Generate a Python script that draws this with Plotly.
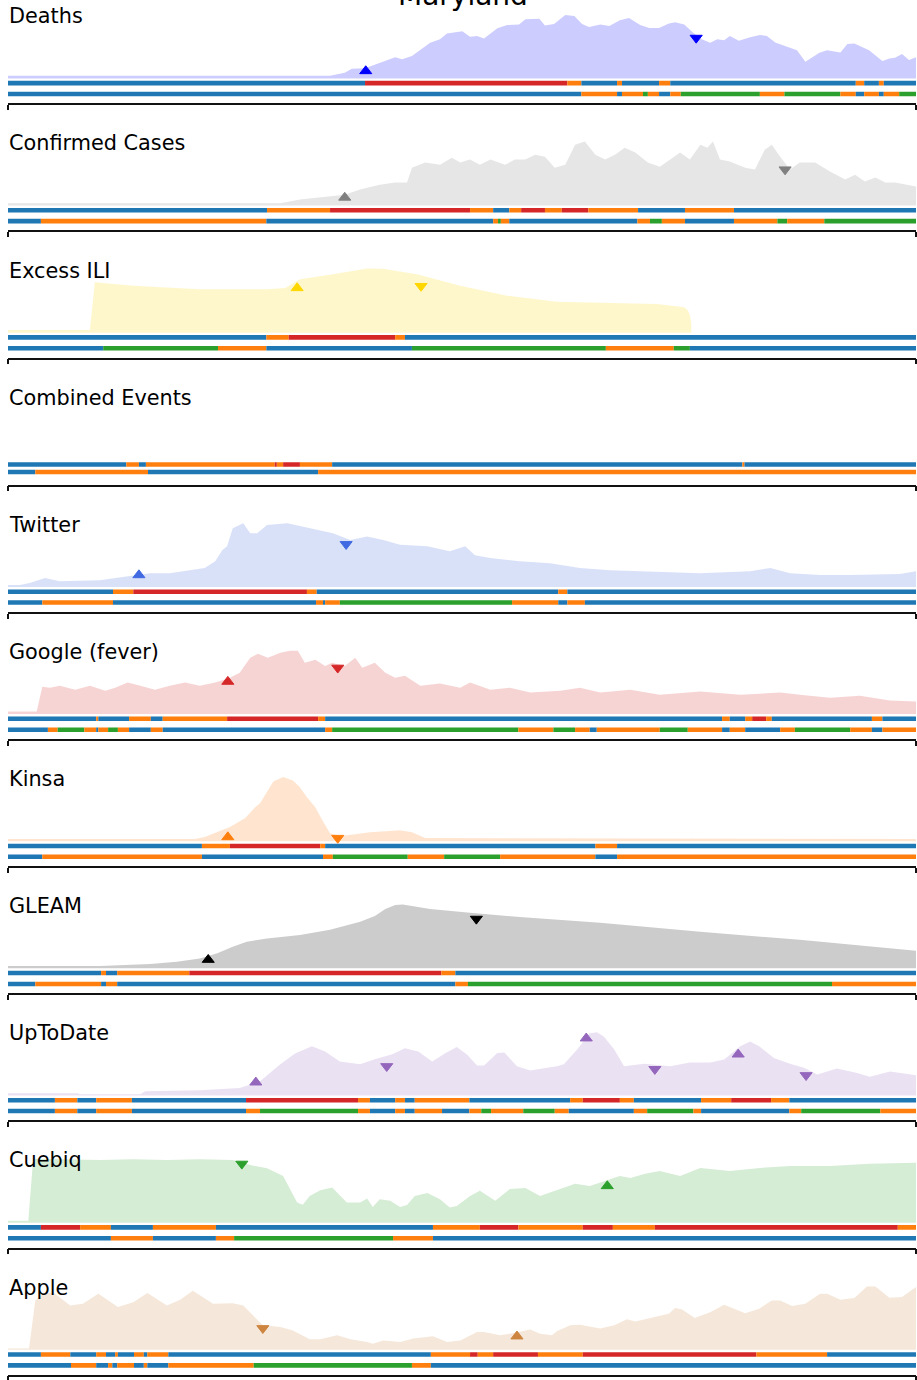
import plotly.graph_objects as go

# ---------------------------------------------------------------------------
# Data: day index (0 = first day shown) and normalised signal level (0-100)
# ---------------------------------------------------------------------------
LAST_DAY = 129.7

DEATHS_DAY = [0, 46, 48.1, 49.1, 51, 53.1, 55.3, 56.3, 57.7, 60.3, 61.7, 62.7, 63.4, 64.9, 66, 67, 68, 69.9, 71.3, 73,
              73.9, 75.9, 76.7, 78, 79.6, 80.9, 82, 83, 84.6, 85.9, 87.4, 88.7, 90.3, 91.6, 93, 94.4, 95.3, 96.6, 98, 99.1,
              100.3, 101.3, 102.3, 103.1, 104.4, 106, 107.4, 108.4, 109.6, 111.3, 112.7, 113.9, 115.9, 117, 118.9, 119.9,
              120.9, 123, 124.9, 125.9, 126.7, 127.7, 128.7, 129.7]
DEATHS_VAL = [4, 4, 9, 15, 16, 24.5, 33, 30, 35, 55.5, 61, 70, 71, 73.5, 65, 66, 62, 78, 83, 84,
              92, 93, 82.5, 84.5, 98.5, 97, 84.5, 80, 84, 81.5, 90.5, 94, 83, 78.5, 78.5, 85.5, 87.5, 84, 70, 61,
              55.5, 61, 59.5, 66, 58.5, 64, 67.5, 66, 56, 49, 44, 26, 40, 44, 40.5, 53.5,
              54.5, 44, 27, 31, 32, 38, 28.5, 33]
DEATHS_MARK_DAY = [51.1, 98.3]
DEATHS_MARK_VAL = [11.5, 63]
DEATHS_MARK_KIND = ["up", "down"]
DEATHS_ROW1 = [(0, "b"), (51, "r"), (79.9, "o"), (81.9, "b"), (87, "o"), (87.7, "b"), (93, "o"), (94.6, "b"),
               (121.1, "o"), (122.3, "b"), (124.4, "o"), (125.1, "b")]
DEATHS_ROW2 = [(0, "b"), (81.9, "o"), (87, "b"), (87.7, "o"), (90.7, "g"), (91.4, "o"), (93, "b"), (94.6, "o"),
               (96.1, "g"), (107.4, "o"), (110.9, "g"), (118.9, "o"), (121.1, "b"), (122.3, "o"), (124.4, "b"),
               (125.1, "o"), (127.3, "g")]

CONFIRMED_DAY = [0, 38.9, 41.7, 46, 48.1, 50.3, 53.1, 55.3, 57, 57.7, 59.6, 61.7, 63.4, 64.6, 66, 67.4, 68.9, 71, 72.4,
                 73.9, 75.3, 76.7, 78.1, 79.6, 81, 82.4, 83.9, 85.3, 86.7, 88.1, 89.6, 91.4, 93.1, 94.6, 96, 97.4, 98.9,
                 99.9, 100.7, 101.7, 103.1, 105.3, 106.7, 108.1, 109.1, 110.3, 111.7, 113.1, 115.3, 117.4, 119.6, 121,
                 122.4, 123.9, 125.3, 126.7, 128.1, 129.7]
CONFIRMED_VAL = [3.5, 3.5, 9.5, 14, 17, 25, 32.5, 36, 36, 59, 67, 63.5, 74.5, 67, 71.5, 63.5, 71.5, 63.5, 71.5,
                 71.5, 79, 76, 59, 63.5, 94.5, 99.5, 79, 71.5, 79, 90, 82.5, 67, 60.5, 71.5, 82.5, 71.5, 94.5,
                 90, 99.5, 71.5, 68.5, 59, 56, 87, 94.5, 76, 56, 67, 67, 53, 40.5, 48,
                 37.5, 43.5, 36, 36, 32.5, 29.5]
CONFIRMED_MARK_DAY = [48.1, 111]
CONFIRMED_MARK_VAL = [12.5, 56]
CONFIRMED_MARK_KIND = ["up", "down"]
CONFIRMED_ROW1 = [(0, "b"), (37, "o"), (46, "r"), (66, "o"), (69.3, "b"), (71.6, "o"), (73.3, "r"), (76.7, "o"),
                  (79.1, "r"), (82.9, "o"), (90, "b"), (96.7, "o"), (103.7, "b")]
CONFIRMED_ROW2 = [(0, "b"), (4.7, "o"), (36.9, "b"), (69.3, "o"), (70, "g"), (70.4, "o"), (71.6, "b"), (89.9, "o"),
                  (91.7, "g"), (93.4, "o"), (96.7, "b"), (103.7, "o"), (109.9, "g"), (111.3, "o"), (116.6, "g")]

ILI_DAY = [0, 11.7, 12.4, 17.9, 27.4, 37, 39.6, 41.7, 46.4, 51.3, 53.6, 58.4, 64.6, 71.3, 78.4, 92.7, 96.6, 97.1,
           97.4, 97.6]
ILI_VAL = [4, 4, 78.5, 73, 67.5, 67.5, 69.5, 83, 91, 100, 99.5, 91, 73, 57.5, 48, 44.5, 39.5, 35, 27.5, 13.5]
ILI_MARK_DAY = [41.3, 59]
ILI_MARK_VAL = [69.5, 72.5]
ILI_MARK_KIND = ["up", "down"]
ILI_ROW1 = [(0, "b"), (36.9, "o"), (40.1, "r"), (55.3, "o"), (56.7, "b")]
ILI_ROW2 = [(0, "b"), (13.6, "g"), (30, "o"), (36.9, "b"), (57.7, "g"), (85.4, "o"), (95.1, "g"), (97.4, "b")]

COMBINED_ROW1 = [(0, "b"), (16.9, "o"), (18.7, "b"), (19.7, "o"), (38.1, "r"), (38.4, "o"), (39.3, "r"), (41.7, "o"),
                 (46.3, "b"), (104.9, "o"), (105.2, "b")]
COMBINED_ROW2 = [(0, "b"), (3.9, "o"), (20, "b"), (44.3, "o")]

TWITTER_DAY = [0, 1.7, 3.1, 5.3, 7.4, 13.1, 17.4, 20.3, 23.1, 26, 28.1, 29.6, 30.6, 31.3, 32.1, 33.6, 34.6, 35.6, 37,
               39.9, 41.7, 46.4, 48.9, 51.3, 53.6, 56, 59.9, 63.1, 65.3, 66.7, 68.9, 73.1, 77.4, 81.7, 86, 91.7, 98.9,
               106, 108.9, 111.7, 116, 120.3, 124.6, 127.4, 129.7]
TWITTER_VAL = [3, 3, 6, 14, 9, 10.5, 17, 21.5, 21.5, 26, 29.5, 40, 57, 63.5, 91.5, 99, 83.5, 83.5, 96.5,
               99, 94.5, 83.5, 73, 78.5, 73, 65.5, 63.5, 55.5, 63.5, 49.5, 45, 40, 37, 29.5, 26, 24.5, 21.5,
               24.5, 29.5, 21.5, 18.5, 18.5, 20, 20, 24.5]
TWITTER_MARK_DAY = [18.7, 48.3]
TWITTER_MARK_VAL = [18.5, 66.5]
TWITTER_MARK_KIND = ["up", "down"]
TWITTER_ROW1 = [(0, "b"), (15, "o"), (17.9, "r"), (42.7, "o"), (44.1, "b"), (78.6, "o"), (79.9, "b")]
TWITTER_ROW2 = [(0, "b"), (4.9, "o"), (15, "b"), (44, "o"), (45, "b"), (45.3, "o"), (47.4, "g"), (72, "o"),
                (78.6, "b"), (79.9, "o"), (82.4, "b")]

GOOGLE_DAY = [0, 4.1, 4.9, 6, 7.4, 9.6, 11.7, 13.9, 15.3, 17.1, 18.9, 21, 23.1, 25.3, 27.4, 29.6, 31.7, 33.1, 34.6,
              35.7, 37.1, 38.9, 40.3, 41.4, 42.4, 43.9, 45.3, 46.3, 48.1, 49.6, 50.6, 52.4, 53.9, 55.3, 56.7, 58.9,
              61.7, 64.6, 66, 68.9, 71.7, 74.6, 78.9, 81.7, 84.6, 88.9, 93.1, 98.9, 104.6, 110.3, 113.1, 117.4,
              121.7, 126, 129.7]
GOOGLE_VAL = [4, 4, 42.5, 41, 44, 38, 44, 36.5, 41, 49, 44, 38, 44, 49, 44, 49, 56.5, 64.5, 87.5,
              94, 87.5, 95.5, 98.5, 98.5, 80, 84.5, 75, 80, 75, 87.5, 72, 80, 64.5, 56.5, 59.5, 44,
              47.5, 41, 49, 38, 41, 33.5, 36.5, 41, 33.5, 38, 30, 35, 30, 33.5, 30, 25.5,
              28.5, 21, 19.5]
GOOGLE_MARK_DAY = [31.4, 47.1]
GOOGLE_MARK_VAL = [50.5, 72]
GOOGLE_MARK_KIND = ["up", "down"]
GOOGLE_ROW1 = [(0, "b"), (12.6, "o"), (12.9, "b"), (17.3, "o"), (20.4, "b"), (22.1, "o"), (31.3, "r"), (44.3, "o"),
               (45.3, "b"), (102, "o"), (103.1, "b"), (105.3, "o"), (106.3, "r"), (108.3, "o"), (109.1, "b"),
               (123.4, "o"), (124.9, "b")]
GOOGLE_ROW2 = [(0, "b"), (5.7, "o"), (7.1, "g"), (10.9, "o"), (12.6, "b"), (12.9, "o"), (14.3, "g"), (15.7, "o"),
               (17.3, "b"), (20.4, "o"), (22.1, "b"), (45.3, "o"), (46.3, "g"), (72.9, "o"), (77.9, "g"), (81, "o"),
               (83.1, "b"), (84.1, "o"), (93.1, "g"), (97.1, "o"), (102, "b"), (103.1, "o"), (105.3, "b"),
               (110.3, "o"), (112.4, "g"), (120.3, "o"), (123.4, "b"), (124.9, "o")]

KINSA_DAY = [0, 26.7, 28.1, 29.6, 31.7, 33.9, 35.3, 36, 36.9, 37.9, 39.3, 40.7, 41.7, 42.7, 43.9, 44.9, 46, 47.4,
             49.6, 51.7, 53.9, 56, 57.7, 59.6, 129.7]
KINSA_VAL = [3.5, 3.5, 6.5, 12.5, 22, 36, 53, 59, 76, 93, 100, 94.5, 84, 68.5, 53, 32.5, 12.5, 8,
             11, 14, 15.5, 17, 14, 5, 3.5]
KINSA_MARK_DAY = [31.4, 47.1]
KINSA_MARK_VAL = [6.5, 5]
KINSA_MARK_KIND = ["up", "down"]
KINSA_ROW1 = [(0, "b"), (27.7, "o"), (31.7, "r"), (44.6, "o"), (45.3, "b"), (83.9, "o"), (87, "b")]
KINSA_ROW2 = [(0, "b"), (4.9, "o"), (27.7, "b"), (45, "o"), (46.4, "g"), (57.1, "o"), (62.3, "g"), (70.3, "o"),
              (83.9, "b"), (87, "o")]

GLEAM_DAY = [0, 13.1, 20.3, 24.1, 27.4, 29.9, 32.1, 34.1, 37, 41.7, 46, 50.3, 52.4, 53.9, 55.3, 56.4, 57.7, 60.3, 66,
             73.1, 84.6, 98.9, 113.1, 129.7]
GLEAM_VAL = [3.5, 3.5, 7, 10.5, 15.5, 23.5, 33.5, 41.5, 46.5, 52, 60, 72.5, 81.5, 92.5, 98.5, 99.5, 97, 92.5, 86.5,
             80, 71, 57, 44.5, 27.5]
GLEAM_MARK_DAY = [28.6, 66.9]
GLEAM_MARK_VAL = [13.5, 77]
GLEAM_MARK_KIND = ["up", "down"]
GLEAM_ROW1 = [(0, "b"), (13.3, "o"), (14, "b"), (15.6, "o"), (25.9, "r"), (61.9, "o"), (63.9, "b")]
GLEAM_ROW2 = [(0, "b"), (3.9, "o"), (13.3, "b"), (14, "o"), (15.6, "b"), (63.9, "o"), (65.7, "g"), (117.7, "o")]

UPTODATE_DAY = [0, 10, 10.3, 18.9, 19.6, 27.4, 33.1, 36, 38.9, 41, 43.4, 45.3, 47.4, 50.3, 52.4, 54.9, 56.7, 58.6,
                60.6, 62.4, 64.1, 65.6, 67, 68, 69.9, 70.9, 72.7, 74.6, 78.4, 79.4, 81.3, 83.1, 84.1, 85.1, 86.6, 88,
                90.9, 94.6, 97.4, 100.3, 102.3, 104.6, 106, 107.3, 109.4, 111.7, 113.7, 115.6, 118.4, 121.3, 123.1,
                126, 129.7]
UPTODATE_VAL = [3.5, 3.5, 2, 2, 6.5, 8, 11.5, 22, 48.5, 65.5, 76.5, 68.5, 53, 48.5, 56.5, 64, 73.5, 68.5,
                53, 65.5, 75.5, 63.5, 46.5, 46.5, 66, 67, 45.5, 39, 45.5, 48.5, 71.5, 97, 98.5, 92, 71.5, 45.5,
                49.5, 45.5, 51.5, 51.5, 56, 76.5, 84, 76.5, 58.5, 49.5, 43, 32.5, 42, 35, 29,
                37.5, 31.5]
UPTODATE_MARK_DAY = [35.4, 54.1, 82.6, 92.4, 104.3, 114]
UPTODATE_MARK_VAL = [20.5, 45.5, 89, 41, 64, 31.5]
UPTODATE_MARK_KIND = ["up", "down", "up", "down", "up", "down"]
UPTODATE_ROW1 = [(0, "b"), (6.7, "o"), (9.9, "b"), (12.6, "o"), (17.7, "b"), (34, "r"), (50, "o"), (51.7, "b"),
                 (55.3, "o"), (56.7, "b"), (58.1, "o"), (65.9, "b"), (80.3, "o"), (82.1, "r"), (87.4, "o"),
                 (89.4, "b"), (99, "o"), (103.3, "r"), (109, "o"), (111.6, "b")]
UPTODATE_ROW2 = [(0, "b"), (6.7, "o"), (9.9, "b"), (12.6, "o"), (17.7, "b"), (34, "o"), (36, "g"), (50, "o"),
                 (51.7, "b"), (55.3, "o"), (56.7, "b"), (58.1, "o"), (62, "b"), (65.9, "o"), (67.6, "g"), (69, "o"),
                 (73.6, "g"), (78.1, "o"), (80.1, "b"), (89.4, "o"), (91.3, "g"), (97.9, "o"), (99, "b"),
                 (111.6, "o"), (113.3, "g"), (124.6, "o")]

CUEBIQ_DAY = [0, 2.9, 3.6, 13.1, 17.9, 22.7, 27.4, 32.1, 34.6, 37, 39.3, 40.3, 41.3, 42.1, 43.1, 44.6, 46.3, 48.4,
              50.3, 51.3, 52.1, 53.1, 54.6, 56, 57, 58.1, 59.9, 61.7, 63.1, 64.1, 66, 67.4, 69.6, 71.7, 73.9, 76,
              78.9, 81, 83.1, 85.3, 87.4, 88.9, 91, 93.1, 96, 98.9, 103.1, 107.4, 111.7, 117.4, 123.1, 129.7]
CUEBIQ_VAL = [3, 3, 99.5, 97.5, 98.5, 97.5, 98.5, 97.5, 89.5, 84.5, 72.5, 52, 31.5, 28, 41.5, 50.5, 54.5, 31.5,
              31.5, 37.5, 24.5, 36.5, 34, 24.5, 27.5, 41.5, 46, 36.5, 23.5, 26, 41.5, 49.5, 34, 52.5, 54, 41.5,
              52.5, 60.5, 57, 65, 72.5, 69.5, 76, 80.5, 72.5, 85, 80.5, 85, 88, 88, 91.5, 93]
CUEBIQ_MARK_DAY = [33.4, 85.6]
CUEBIQ_MARK_VAL = [91.5, 57]
CUEBIQ_MARK_KIND = ["down", "up"]
CUEBIQ_ROW1 = [(0, "b"), (4.7, "r"), (10.3, "o"), (14.7, "b"), (20.7, "o"), (29.7, "b"), (60.7, "o"), (67.4, "r"),
               (72.9, "o"), (82.1, "r"), (86.4, "o"), (92.4, "r"), (127.1, "o")]
CUEBIQ_ROW2 = [(0, "b"), (14.7, "o"), (20.7, "b"), (29.7, "o"), (32.3, "g"), (55, "o"), (60.7, "b")]

APPLE_DAY = [0, 3, 3.9, 5, 6.4, 8.9, 10.7, 12.9, 15.7, 17.9, 19.9, 22.7, 24.6, 26.4, 29.3, 32.1, 33.6, 36.4, 38.9,
             40.7, 43.1, 44.6, 47, 48.9, 51.3, 52.1, 53.6, 56, 57.9, 60.7, 62.7, 64.6, 67, 68, 70.3, 71.7, 74.6, 76,
             77.7, 78.4, 80.3, 81.7, 84.6, 86.6, 88.4, 89.6, 92, 94.4, 95.3, 96.3, 98.1, 100.3, 102.3, 103.7, 105.3,
             107.3, 109.1, 110.3, 112, 113.9, 116, 117, 118.9, 120.9, 122.7, 123.9, 125.9, 127.7, 129.7]
APPLE_VAL = [2, 2, 76.5, 87, 89.5, 69, 71.5, 87, 66.5, 74, 88.5, 69, 78, 92, 71.5, 72.5, 69, 38, 35.5,
             30, 16.5, 16.5, 22.5, 16.5, 12, 9.5, 14.5, 12, 17.5, 21, 12, 14.5, 27.5, 27.5, 22.5, 25, 31.5, 25,
             22.5, 29, 38, 39, 33, 38, 47.5, 44, None, 56, 65, 62.5, 49.5, 58.5, 70, 64, 57,
             64, 76.5, 76.5, 68, 71.5, 87, 87, 78, 80.5, 98.5, 98.5, 81, 82, 97.5]
APPLE_MARK_DAY = [36.4, 72.7]
APPLE_MARK_VAL = [33.5, 21]
APPLE_MARK_KIND = ["down", "up"]
APPLE_ROW1 = [(0, "b"), (4.7, "o"), (8.9, "b"), (12.6, "o"), (14, "b"), (15.3, "o"), (15.7, "b"), (18, "o"),
              (19.4, "b"), (19.9, "o"), (22.9, "b"), (60.4, "o"), (66, "r"), (67.1, "o"), (69.3, "r"), (75.7, "o"),
              (82.1, "r"), (106.9, "o"), (117, "b")]
APPLE_ROW2 = [(0, "b"), (9, "o"), (12.6, "b"), (14.3, "o"), (14.9, "b"), (15.6, "o"), (18, "b"), (19.4, "o"),
              (19.9, "b"), (22.9, "o"), (35.1, "g"), (57.7, "o"), (60.4, "b")]

STATE_COLORS = {"b": "#1f77b4", "o": "#ff7f0e", "r": "#d62728", "g": "#2ca02c"}

PANELS = [
    dict(name="Deaths", color="#0000ff", day=DEATHS_DAY, val=DEATHS_VAL, mday=DEATHS_MARK_DAY,
         mval=DEATHS_MARK_VAL, mkind=DEATHS_MARK_KIND, row1=DEATHS_ROW1, row2=DEATHS_ROW2),
    dict(name="Confirmed Cases", color="#808080", day=CONFIRMED_DAY, val=CONFIRMED_VAL, mday=CONFIRMED_MARK_DAY,
         mval=CONFIRMED_MARK_VAL, mkind=CONFIRMED_MARK_KIND, row1=CONFIRMED_ROW1, row2=CONFIRMED_ROW2),
    dict(name="Excess ILI", color="#ffd700", day=ILI_DAY, val=ILI_VAL, mday=ILI_MARK_DAY,
         mval=ILI_MARK_VAL, mkind=ILI_MARK_KIND, row1=ILI_ROW1, row2=ILI_ROW2),
    dict(name="Combined Events", color=None, day=[], val=[], mday=[], mval=[], mkind=[],
         row1=COMBINED_ROW1, row2=COMBINED_ROW2, row2_y=-18.9),
    dict(name="Twitter", color="#4169e1", day=TWITTER_DAY, val=TWITTER_VAL, mday=TWITTER_MARK_DAY,
         mval=TWITTER_MARK_VAL, mkind=TWITTER_MARK_KIND, row1=TWITTER_ROW1, row2=TWITTER_ROW2),
    dict(name="Google (fever)", color="#d62728", day=GOOGLE_DAY, val=GOOGLE_VAL, mday=GOOGLE_MARK_DAY,
         mval=GOOGLE_MARK_VAL, mkind=GOOGLE_MARK_KIND, row1=GOOGLE_ROW1, row2=GOOGLE_ROW2),
    dict(name="Kinsa", color="#ff7f0e", day=KINSA_DAY, val=KINSA_VAL, mday=KINSA_MARK_DAY,
         mval=KINSA_MARK_VAL, mkind=KINSA_MARK_KIND, row1=KINSA_ROW1, row2=KINSA_ROW2),
    dict(name="GLEAM", color="#000000", day=GLEAM_DAY, val=GLEAM_VAL, mday=GLEAM_MARK_DAY,
         mval=GLEAM_MARK_VAL, mkind=GLEAM_MARK_KIND, row1=GLEAM_ROW1, row2=GLEAM_ROW2),
    dict(name="UpToDate", color="#9467bd", day=UPTODATE_DAY, val=UPTODATE_VAL, mday=UPTODATE_MARK_DAY,
         mval=UPTODATE_MARK_VAL, mkind=UPTODATE_MARK_KIND, row1=UPTODATE_ROW1, row2=UPTODATE_ROW2),
    dict(name="Cuebiq", color="#2ca02c", day=CUEBIQ_DAY, val=CUEBIQ_VAL, mday=CUEBIQ_MARK_DAY,
         mval=CUEBIQ_MARK_VAL, mkind=CUEBIQ_MARK_KIND, row1=CUEBIQ_ROW1, row2=CUEBIQ_ROW2),
    dict(name="Apple", color="#cd853f", day=APPLE_DAY, val=APPLE_VAL, mday=APPLE_MARK_DAY,
         mval=APPLE_MARK_VAL, mkind=APPLE_MARK_KIND, row1=APPLE_ROW1, row2=APPLE_ROW2),
]

# ---------------------------------------------------------------------------
# Geometry (pixels)
# ---------------------------------------------------------------------------
W, H = 917, 1380
STEP = 127.6          # vertical distance between panels
ZERO = 78.7           # panel top -> zero line of the area
SPINE = 103.7         # panel top -> bottom spine
UNITS_PER_PX = 1.55   # signal units per pixel
X_LEFT, X_RIGHT = 8, 916
ROW1_Y, ROW2_Y, BAR_W = -7.3, -24.2, 7.1
TITLE_SIZE = 20.8


def rgba(hex_color, alpha):
    h = hex_color.lstrip("#")
    r, g, b = int(h[0:2], 16), int(h[2:4], 16), int(h[4:6], 16)
    return f"rgba({r},{g},{b},{alpha})"


fig = go.Figure()
axes = {}
annotations = []

for k, p in enumerate(PANELS):
    sfx = "" if k == 0 else str(k + 1)
    xa, ya = "x" + sfx, "y" + sfx
    top = k * STEP
    bottom = top + SPINE
    axes["xaxis" + sfx] = dict(
        domain=[X_LEFT / W, X_RIGHT / W], range=[0, LAST_DAY], anchor=ya,
        showline=True, linecolor="#111111", linewidth=1.5,
        ticks="outside", tickvals=[0, LAST_DAY], ticklen=5, tickwidth=1.5, tickcolor="#111111",
        showticklabels=False, showgrid=False, zeroline=False, fixedrange=True,
    )
    axes["yaxis" + sfx] = dict(
        domain=[1 - bottom / H, 1 - top / H],
        range=[-(SPINE - ZERO) * UNITS_PER_PX, ZERO * UNITS_PER_PX],
        anchor=xa, visible=False, fixedrange=True,
    )

    if p["day"]:
        fig.add_trace(go.Scatter(
            x=p["day"], y=p["val"], mode="lines", fill="tozeroy",
            fillcolor=rgba(p["color"], 0.2), line=dict(width=0, color=rgba(p["color"], 0.2)),
            connectgaps=False, hoverinfo="skip", xaxis=xa, yaxis=ya,
        ))

    for row, ypos in ((p["row1"], ROW1_Y), (p["row2"], p.get("row2_y", ROW2_Y))):
        starts = [s for s, _ in row]
        ends = starts[1:] + [LAST_DAY]
        fig.add_trace(go.Bar(
            orientation="h", base=starts, x=[e - s for s, e in zip(starts, ends)],
            y=[ypos] * len(row), width=BAR_W,
            marker=dict(color=[STATE_COLORS[c] for _, c in row], line=dict(width=0)),
            hoverinfo="skip", xaxis=xa, yaxis=ya,
        ))

    if p["mday"]:
        fig.add_trace(go.Scatter(
            x=p["mday"], y=p["mval"], mode="markers",
            marker=dict(symbol=["triangle-up" if m == "up" else "triangle-down" for m in p["mkind"]],
                        size=10.5, color=p["color"], line=dict(width=1, color=p["color"])),
            hoverinfo="skip", xaxis=xa, yaxis=ya,
        ))

    annotations.append(dict(
        text=p["name"], xref="paper", yref="paper", x=7 / W, y=1 - (top + 16.3) / H,
        xanchor="left", yanchor="middle", showarrow=False,
        font=dict(family="DejaVu Sans", size=TITLE_SIZE, color="black"),
    ))

annotations.append(dict(
    text="Maryland", xref="paper", yref="paper", x=462.5 / W, y=1 + 4.8 / H,
    xanchor="center", yanchor="middle", showarrow=False,
    font=dict(family="DejaVu Sans", size=28, color="black"),
))

fig.update_layout(
    width=W, height=H, margin=dict(l=0, r=0, t=0, b=0),
    paper_bgcolor="white", plot_bgcolor="white",
    showlegend=False, barmode="overlay", annotations=annotations,
    font=dict(family="DejaVu Sans"),
    **axes,
)

fig.write_html("out.html")
